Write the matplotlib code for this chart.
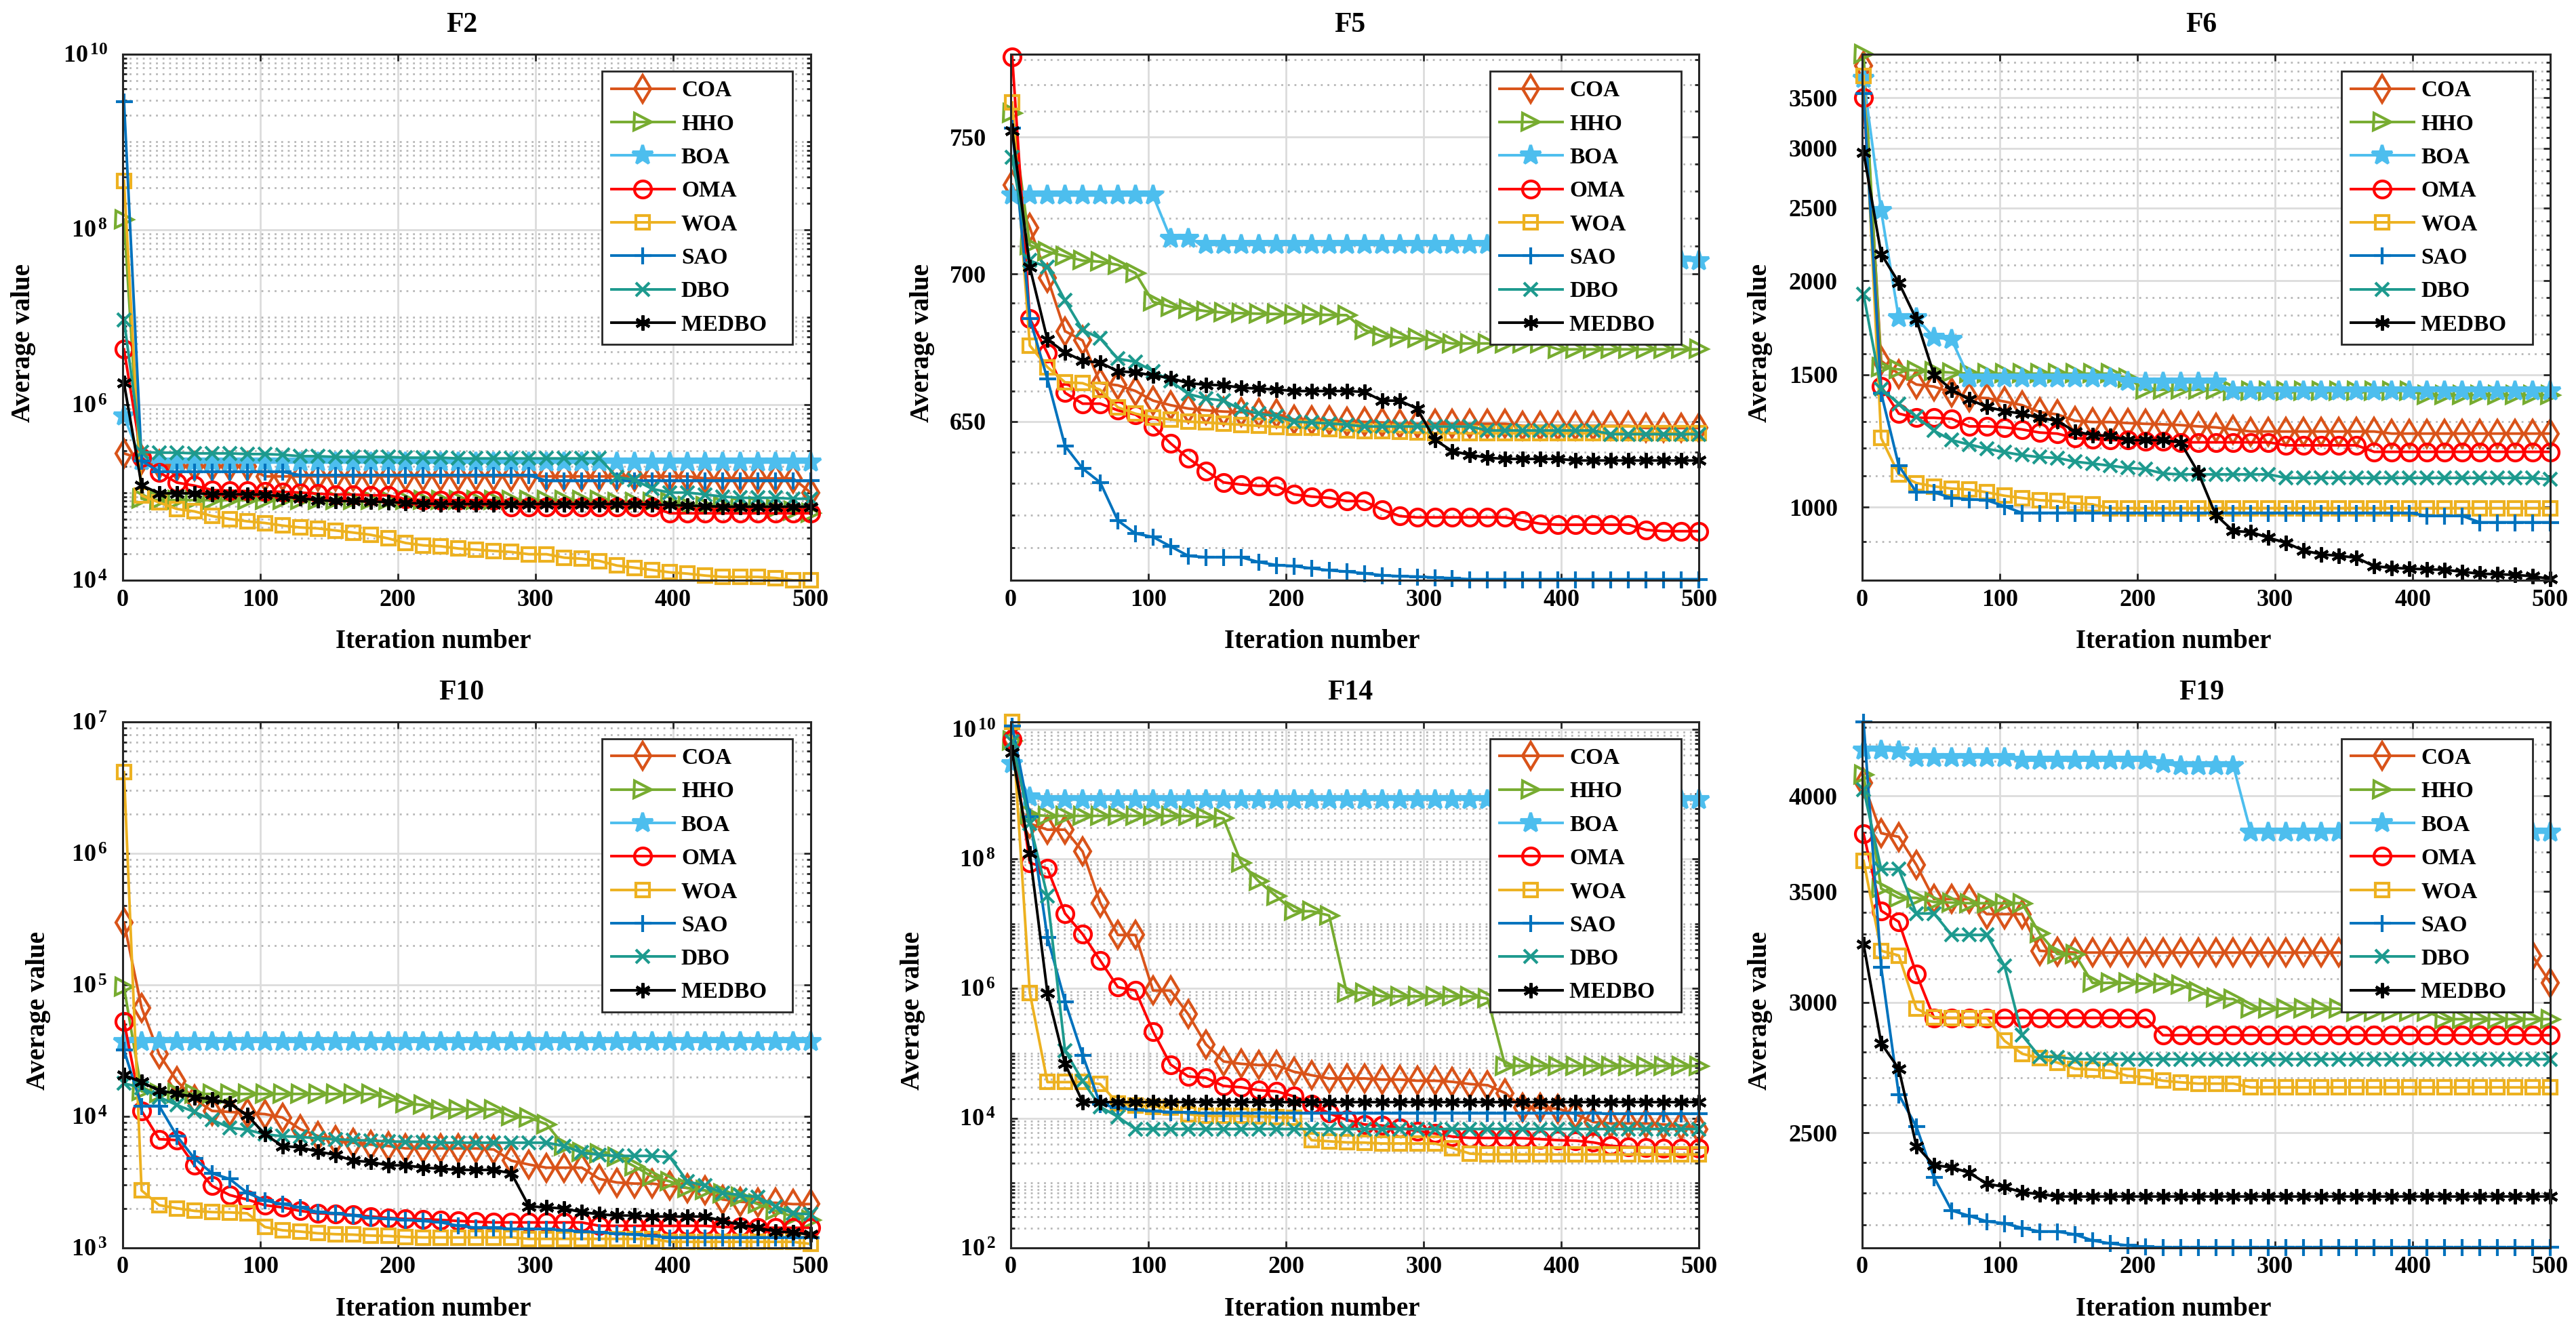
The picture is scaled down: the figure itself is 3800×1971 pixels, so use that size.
import numpy as np
import matplotlib
matplotlib.use("Agg")
import matplotlib.pyplot as plt
from matplotlib.ticker import FixedLocator, FuncFormatter, NullFormatter, NullLocator

plt.rcParams['font.family'] = ['Liberation Serif', 'DejaVu Serif']
plt.rcParams['font.weight'] = 'bold'
plt.rcParams['axes.labelweight'] = 'bold'
plt.rcParams['axes.titleweight'] = 'bold'
plt.rcParams['mathtext.fontset'] = 'custom'
plt.rcParams['mathtext.rm'] = 'Liberation Serif:bold'
plt.rcParams['mathtext.it'] = 'Liberation Serif:bold:italic'
plt.rcParams['mathtext.bf'] = 'Liberation Serif:bold'

# Алгоритмы и стили
ALGOS = ["COA", "HHO", "BOA", "OMA", "WOA", "SAO", "DBO", "MEDBO"]
COLORS = ["#D95319", "#77AC30", "#4DBEEE", "#FF0000", "#EDB120", "#0072BD", "#1D9A8E", "#000000"]
MARKERS = ["d", ">", "*", "o", "s", "+", "x", (6, 2, 0)]
MSIZES = [10, 9, 11, 9, 7, 9, 7, 8]

# итерации, в которых стоят маркеры
ITER = np.linspace(1, 500, 40)

# ---------------- F2 ----------------
F2_COA = [2.8e5, 2.4e5, 2.1e5, 2.0e5, 2.0e5, 2.0e5, 2.0e5, 2.0e5, 1.53e5, 1.53e5,
          1.53e5, 1.53e5, 1.53e5, 1.53e5, 1.53e5, 1.53e5, 1.53e5, 1.53e5, 1.53e5, 1.53e5,
          1.53e5, 1.53e5, 1.53e5, 1.53e5, 1.53e5, 1.53e5, 1.53e5, 1.53e5, 1.53e5, 1.53e5,
          1.53e5, 1.53e5, 1.53e5, 1.45e5, 1.45e5, 1.45e5, 1.45e5, 1.45e5, 1.45e5, 1.0e5]
F2_HHO = [1.3e8, 8.5e4, 8.2e4, 8.2e4, 8.2e4, 8.2e4, 8.2e4, 8.2e4, 8.2e4, 8.2e4,
          8.2e4, 8.2e4, 8.2e4, 8.2e4, 8.2e4, 8.2e4, 8.2e4, 8.2e4, 8.2e4, 8.2e4,
          8.2e4, 8.2e4, 8.2e4, 8.2e4, 8.2e4, 8.2e4, 8.2e4, 8.2e4, 7.8e4, 7.8e4,
          7.8e4, 7.8e4, 7.0e4, 7.0e4, 7.0e4, 7.0e4, 7.0e4, 6.5e4, 6.2e4, 5.8e4]
F2_BOA = [7.4e5, 2.3e5, 2.2e5, 2.2e5, 2.2e5, 2.2e5, 2.2e5, 2.2e5, 2.2e5, 2.2e5,
          2.2e5, 2.2e5, 2.2e5, 2.2e5, 2.2e5, 2.2e5, 2.2e5, 2.2e5, 2.2e5, 2.2e5,
          2.2e5, 2.2e5, 2.2e5, 2.2e5, 2.2e5, 2.2e5, 2.2e5, 2.2e5, 2.2e5, 2.2e5,
          2.2e5, 2.2e5, 2.2e5, 2.2e5, 2.2e5, 2.2e5, 2.2e5, 2.2e5, 2.2e5, 2.2e5]
F2_OMA = [4.3e6, 2.5e5, 1.7e5, 1.3e5, 1.2e5, 1.07e5, 1.05e5, 1.04e5, 1.03e5, 1.02e5,
          1.0e5, 9.7e4, 9.5e4, 9.5e4, 9.3e4, 9.3e4, 8.4e4, 8.2e4, 8.2e4, 8.2e4,
          8.2e4, 8.2e4, 6.9e4, 6.9e4, 6.9e4, 6.9e4, 6.9e4, 6.9e4, 6.9e4, 6.9e4,
          6.9e4, 5.8e4, 5.8e4, 5.8e4, 5.8e4, 5.8e4, 5.8e4, 5.8e4, 5.8e4, 5.8e4]
F2_WOA = [3.6e8, 9.25e4, 7.7e4, 6.5e4, 6.1e4, 5.4e4, 5.0e4, 4.7e4, 4.5e4, 4.2e4,
          4.0e4, 3.9e4, 3.7e4, 3.5e4, 3.3e4, 3.0e4, 2.66e4, 2.5e4, 2.44e4, 2.3e4,
          2.23e4, 2.16e4, 2.1e4, 1.98e4, 1.98e4, 1.81e4, 1.76e4, 1.66e4, 1.47e4, 1.39e4,
          1.31e4, 1.23e4, 1.19e4, 1.13e4, 1.09e4, 1.09e4, 1.09e4, 1.06e4, 1.0e4, 1.0e4]
F2_SAO = [2.9e9, 2.3e5, 1.73e5, 1.73e5, 1.73e5, 1.73e5, 1.73e5, 1.73e5, 1.73e5, 1.73e5,
          1.58e5, 1.58e5, 1.58e5, 1.58e5, 1.58e5, 1.58e5, 1.58e5, 1.58e5, 1.58e5, 1.58e5,
          1.58e5, 1.58e5, 1.58e5, 1.58e5, 1.36e5, 1.36e5, 1.36e5, 1.36e5, 1.36e5, 1.36e5,
          1.36e5, 1.36e5, 1.36e5, 1.36e5, 1.36e5, 1.36e5, 1.36e5, 1.36e5, 1.36e5, 1.36e5]
F2_DBO = [9.3e6, 2.9e5, 2.85e5, 2.85e5, 2.8e5, 2.8e5, 2.8e5, 2.75e5, 2.75e5, 2.7e5,
          2.6e5, 2.6e5, 2.55e5, 2.55e5, 2.55e5, 2.55e5, 2.5e5, 2.5e5, 2.5e5, 2.45e5,
          2.45e5, 2.45e5, 2.45e5, 2.45e5, 2.45e5, 2.45e5, 2.45e5, 2.45e5, 1.5e5, 1.4e5,
          1.1e5, 1.0e5, 1.0e5, 9.5e4, 9.0e4, 8.7e4, 8.7e4, 8.7e4, 8.5e4, 8.5e4]
F2_MEDBO = [1.78e6, 1.21e5, 9.8e4, 9.8e4, 9.8e4, 9.6e4, 9.6e4, 9.5e4, 9.5e4, 9.0e4,
            8.6e4, 8.2e4, 8.0e4, 8.0e4, 7.9e4, 7.8e4, 7.6e4, 7.5e4, 7.4e4, 7.4e4,
            7.4e4, 7.4e4, 7.4e4, 7.4e4, 7.4e4, 7.4e4, 7.4e4, 7.4e4, 7.4e4, 7.4e4,
            7.3e4, 7.2e4, 7.1e4, 7.0e4, 6.9e4, 6.9e4, 6.9e4, 6.9e4, 6.9e4, 6.9e4]

# ---------------- F5 ----------------
F5_COA = [732.2, 716.6, 698.7, 680.2, 677.0, 662.6, 661.9, 660.0, 656.8, 655.3,
          654.2, 653.6, 653.2, 653.0, 652.8, 652.5, 650.6, 650.3, 650.3, 650.0,
          649.8, 649.6, 649.2, 649.2, 649.2, 649.2, 649.2, 649.2, 649.2, 648.5,
          648.5, 648.5, 648.5, 648.5, 648.5, 648.5, 647.8, 647.8, 647.8, 647.8]
F5_HHO = [759.0, 710.3, 708.0, 706.4, 704.8, 704.4, 703.3, 700.4, 690.3, 688.6,
          687.9, 687.1, 686.6, 686.4, 686.2, 686.1, 686.0, 685.9, 685.8, 685.7,
          680.6, 678.5, 678.0, 677.7, 677.0, 676.0, 676.0, 676.0, 676.0, 676.0,
          676.0, 674.0, 674.0, 674.0, 674.0, 674.0, 674.0, 674.0, 674.0, 674.0]
F5_BOA = [728.3, 728.3, 728.3, 728.3, 728.3, 728.3, 728.3, 728.3, 728.3, 712.7,
          712.7, 710.4, 710.4, 710.4, 710.4, 710.4, 710.4, 710.4, 710.4, 710.4,
          710.4, 710.4, 710.4, 710.4, 710.4, 710.4, 710.4, 710.4, 710.4, 710.4,
          710.4, 710.4, 710.4, 710.4, 710.4, 710.4, 710.4, 710.4, 705.0, 704.6]
F5_OMA = [781.0, 684.5, 672.7, 659.4, 655.8, 655.8, 653.6, 652.2, 648.4, 642.8,
          638.0, 634.0, 630.3, 629.6, 629.2, 629.2, 626.5, 625.8, 625.4, 624.4,
          624.4, 621.7, 619.7, 619.3, 619.3, 619.3, 619.3, 619.3, 619.3, 618.3,
          617.3, 617.0, 617.0, 617.0, 617.0, 617.0, 615.4, 615.0, 615.0, 615.0]
F5_WOA = [763.2, 675.3, 668.0, 662.9, 662.6, 660.4, 654.6, 652.5, 651.3, 650.6,
          649.9, 649.6, 649.2, 648.9, 648.5, 648.2, 648.0, 647.9, 647.5, 647.1,
          646.8, 646.8, 646.5, 646.3, 646.1, 646.1, 646.1, 646.1, 646.1, 646.1,
          646.1, 646.1, 646.1, 646.1, 646.1, 646.1, 646.1, 646.1, 646.1, 646.1]
F5_SAO = [753.4, 684.5, 664.0, 642.0, 634.7, 630.3, 618.3, 614.3, 613.2, 610.3,
          607.4, 607.0, 607.0, 607.0, 605.5, 604.6, 604.3, 603.6, 603.0, 602.6,
          602.1, 601.5, 601.2, 601.1, 600.8, 600.6, 600.3, 600.3, 600.3, 600.3,
          600.3, 600.3, 600.3, 600.3, 600.3, 600.3, 600.3, 600.3, 600.3, 600.3]
F5_DBO = [742.4, 704.8, 702.5, 690.8, 680.6, 677.7, 670.8, 669.8, 666.6, 663.3,
          659.0, 657.5, 656.8, 653.9, 652.5, 651.7, 649.9, 649.6, 649.3, 648.9,
          648.3, 648.3, 648.3, 648.3, 648.3, 648.3, 648.3, 647.0, 647.0, 647.0,
          647.0, 647.0, 647.0, 647.0, 645.8, 645.8, 645.8, 645.8, 645.8, 645.8]
F5_MEDBO = [752.5, 702.5, 677.3, 673.0, 670.1, 669.5, 666.6, 666.2, 665.2, 664.3,
            662.6, 662.1, 661.9, 661.1, 660.8, 660.5, 660.0, 660.0, 660.0, 660.0,
            659.7, 656.8, 656.8, 654.2, 644.0, 640.3, 639.1, 638.2, 637.8, 637.8,
            637.8, 637.8, 637.3, 637.3, 637.3, 637.3, 637.3, 637.3, 637.3, 637.3]

# ---------------- F6 ----------------
F6_COA = [3864, 1565, 1504, 1456, 1447, 1420, 1400, 1397, 1382, 1367,
          1338, 1329, 1303, 1298, 1298, 1294, 1291, 1289, 1286, 1281,
          1277, 1269, 1261, 1261, 1261, 1261, 1261, 1261, 1261, 1261,
          1253, 1253, 1253, 1253, 1253, 1253, 1253, 1253, 1253, 1253]
F6_HHO = [4000, 1535, 1525, 1520, 1515, 1510, 1505, 1505, 1505, 1505,
          1505, 1505, 1505, 1505, 1505, 1485, 1433, 1433, 1433, 1433,
          1433, 1428, 1428, 1428, 1428, 1428, 1428, 1428, 1428, 1428,
          1428, 1428, 1410, 1410, 1410, 1410, 1410, 1410, 1410, 1410]
F6_BOA = [3715, 2475, 1784, 1784, 1682, 1671, 1485, 1485, 1485, 1485,
          1485, 1485, 1485, 1485, 1485, 1470, 1466, 1466, 1466, 1466,
          1466, 1428, 1428, 1428, 1428, 1428, 1428, 1428, 1428, 1428,
          1428, 1428, 1428, 1428, 1428, 1428, 1428, 1428, 1428, 1428]
F6_OMA = [3500, 1447, 1332, 1315, 1315, 1311, 1281, 1281, 1277, 1269,
          1257, 1253, 1236, 1232, 1228, 1228, 1225, 1225, 1220, 1220,
          1220, 1220, 1220, 1220, 1209, 1209, 1209, 1209, 1209, 1185,
          1185, 1185, 1185, 1185, 1185, 1185, 1185, 1185, 1185, 1185]
F6_WOA = [3740, 1236, 1106, 1077, 1066, 1059, 1056, 1047, 1036, 1029,
          1022, 1019, 1012, 1009, 997, 997, 997, 997, 997, 997,
          997, 997, 997, 997, 997, 997, 997, 997, 997, 997,
          997, 997, 997, 997, 997, 997, 997, 997, 997, 997]
F6_SAO = [3550, 1418, 1136, 1047, 1047, 1029, 1025, 1022, 1003, 983,
          983, 983, 983, 983, 983, 983, 983, 983, 983, 983,
          983, 983, 983, 983, 983, 983, 983, 983, 983, 983,
          983, 983, 974, 974, 974, 955, 955, 955, 955, 955]
F6_DBO = [1918, 1437, 1373, 1320, 1264, 1228, 1212, 1196, 1184, 1173,
          1166, 1163, 1150, 1143, 1136, 1128, 1124, 1109, 1106, 1106,
          1106, 1106, 1106, 1106, 1094, 1094, 1094, 1094, 1094, 1094,
          1094, 1094, 1094, 1094, 1094, 1094, 1094, 1094, 1094, 1089]
F6_MEDBO = [2963, 2171, 1989, 1777, 1500, 1434, 1391, 1360, 1342, 1332,
            1315, 1303, 1261, 1248, 1244, 1228, 1228, 1228, 1220, 1113,
            977, 930, 927, 911, 897, 876, 866, 862, 857, 835,
            831, 829, 827, 826, 821, 816, 815, 813, 810, 803]

# ---------------- F10 ----------------
F10_COA = [2.98e5, 6.7e4, 2.96e4, 1.86e4, 1.35e4, 1.1e4, 1.08e4, 1.06e4, 1.04e4, 9.8e3,
           8.0e3, 7.1e3, 6.6e3, 6.3e3, 6.1e3, 5.95e3, 5.7e3, 5.7e3, 5.7e3, 5.7e3,
           5.7e3, 5.6e3, 4.6e3, 4.3e3, 4.07e3, 4.07e3, 4.07e3, 3.34e3, 3.14e3, 3.08e3,
           3.08e3, 2.96e3, 2.85e3, 2.73e3, 2.33e3, 2.24e3, 2.2e3, 2.2e3, 2.15e3, 2.15e3]
F10_HHO = [9.6e4, 1.55e4, 1.5e4, 1.5e4, 1.48e4, 1.48e4, 1.48e4, 1.48e4, 1.48e4, 1.48e4,
           1.48e4, 1.48e4, 1.48e4, 1.48e4, 1.48e4, 1.38e4, 1.25e4, 1.22e4, 1.13e4, 1.13e4,
           1.13e4, 1.13e4, 1.0e4, 9.8e3, 8.7e3, 5.95e3, 5.3e3, 5.2e3, 4.9e3, 4.16e3,
           3.48e3, 3.2e3, 2.85e3, 2.73e3, 2.58e3, 2.43e3, 2.15e3, 1.91e3, 1.73e3, 1.62e3]
F10_BOA = [3.7e4, 3.7e4, 3.7e4, 3.7e4, 3.7e4, 3.7e4, 3.7e4, 3.7e4, 3.7e4, 3.7e4,
           3.7e4, 3.7e4, 3.7e4, 3.7e4, 3.7e4, 3.7e4, 3.7e4, 3.7e4, 3.7e4, 3.7e4,
           3.7e4, 3.7e4, 3.7e4, 3.7e4, 3.7e4, 3.7e4, 3.7e4, 3.7e4, 3.7e4, 3.7e4,
           3.7e4, 3.7e4, 3.7e4, 3.7e4, 3.7e4, 3.7e4, 3.7e4, 3.7e4, 3.7e4, 3.7e4]
F10_OMA = [5.27e4, 1.1e4, 6.7e3, 6.6e3, 4.24e3, 2.96e3, 2.52e3, 2.33e3, 2.11e3, 2.03e3,
           1.91e3, 1.83e3, 1.81e3, 1.78e3, 1.73e3, 1.69e3, 1.66e3, 1.65e3, 1.63e3, 1.6e3,
           1.58e3, 1.56e3, 1.56e3, 1.56e3, 1.56e3, 1.56e3, 1.56e3, 1.47e3, 1.47e3, 1.47e3,
           1.47e3, 1.47e3, 1.47e3, 1.47e3, 1.44e3, 1.44e3, 1.42e3, 1.42e3, 1.42e3, 1.42e3]
F10_WOA = [4.15e6, 2.73e3, 2.11e3, 2.0e3, 1.91e3, 1.87e3, 1.86e3, 1.83e3, 1.44e3, 1.36e3,
           1.33e3, 1.29e3, 1.27e3, 1.26e3, 1.24e3, 1.23e3, 1.21e3, 1.2e3, 1.2e3, 1.2e3,
           1.2e3, 1.2e3, 1.2e3, 1.17e3, 1.17e3, 1.17e3, 1.17e3, 1.17e3, 1.17e3, 1.17e3,
           1.17e3, 1.11e3, 1.11e3, 1.11e3, 1.11e3, 1.11e3, 1.11e3, 1.11e3, 1.11e3, 1.07e3]
F10_SAO = [3.18e4, 1.2e4, 1.2e4, 7.1e3, 4.78e3, 3.69e3, 3.34e3, 2.62e3, 2.29e3, 2.15e3,
           2.03e3, 1.87e3, 1.83e3, 1.76e3, 1.69e3, 1.66e3, 1.63e3, 1.6e3, 1.56e3, 1.47e3,
           1.42e3, 1.42e3, 1.39e3, 1.39e3, 1.39e3, 1.36e3, 1.33e3, 1.31e3, 1.28e3, 1.26e3,
           1.23e3, 1.2e3, 1.2e3, 1.2e3, 1.2e3, 1.2e3, 1.2e3, 1.2e3, 1.2e3, 1.2e3]
F10_DBO = [1.78e4, 1.65e4, 1.4e4, 1.22e4, 1.08e4, 9.4e3, 8.2e3, 7.9e3, 7.3e3, 7.06e3,
           6.98e3, 6.8e3, 6.7e3, 6.6e3, 6.55e3, 6.45e3, 6.4e3, 6.4e3, 6.3e3, 6.3e3,
           6.3e3, 6.3e3, 6.3e3, 6.3e3, 6.3e3, 5.95e3, 5.3e3, 5.1e3, 5.0e3, 5.0e3,
           5.0e3, 4.9e3, 3.2e3, 2.96e3, 2.62e3, 2.52e3, 2.43e3, 2.07e3, 1.83e3, 1.8e3]
F10_MEDBO = [2.06e4, 1.82e4, 1.57e4, 1.49e4, 1.4e4, 1.35e4, 1.25e4, 1.02e4, 7.3e3, 5.95e3,
             5.8e3, 5.4e3, 5.1e3, 4.6e3, 4.5e3, 4.24e3, 4.24e3, 4.07e3, 4.0e3, 3.91e3,
             3.91e3, 3.91e3, 3.69e3, 2.07e3, 2.03e3, 1.99e3, 1.87e3, 1.8e3, 1.76e3, 1.76e3,
             1.73e3, 1.73e3, 1.73e3, 1.73e3, 1.6e3, 1.5e3, 1.42e3, 1.33e3, 1.31e3, 1.26e3]

# ---------------- F14 ----------------
F14_COA = [7.0e9, 3.5e8, 2.82e8, 2.82e8, 1.3e8, 2.1e7, 6.7e6, 6.7e6, 9.3e5, 9.3e5,
           4.0e5, 1.38e5, 7.5e4, 6.9e4, 6.6e4, 6.6e4, 5.2e4, 4.6e4, 4.1e4, 4.1e4,
           4.1e4, 3.94e4, 3.94e4, 3.78e4, 3.78e4, 3.64e4, 3.36e4, 3.23e4, 2.44e4, 1.45e4,
           1.45e4, 1.4e4, 1.15e4, 8.7e3, 8.3e3, 8.3e3, 8.3e3, 8.0e3, 7.7e3, 6.8e3]
F14_HHO = [6.6e9, 4.8e8, 4.6e8, 4.6e8, 4.6e8, 4.6e8, 4.6e8, 4.6e8, 4.6e8, 4.6e8,
           4.6e8, 4.4e8, 4.2e8, 8.7e7, 4.5e7, 2.65e7, 1.56e7, 1.56e7, 1.34e7, 8.6e5,
           8.6e5, 7.6e5, 7.6e5, 7.6e5, 7.6e5, 7.6e5, 7.6e5, 7.0e5, 6.4e4, 6.4e4,
           6.4e4, 6.4e4, 6.4e4, 6.4e4, 6.4e4, 6.4e4, 6.4e4, 6.4e4, 6.4e4, 6.4e4]
F14_BOA = [2.9e9, 8.9e8, 8.2e8, 8.2e8, 8.2e8, 8.2e8, 8.2e8, 8.2e8, 8.2e8, 8.2e8,
           8.2e8, 8.2e8, 8.2e8, 8.2e8, 8.2e8, 8.2e8, 8.2e8, 8.2e8, 8.2e8, 8.2e8,
           8.2e8, 8.2e8, 8.2e8, 8.2e8, 8.2e8, 8.2e8, 8.2e8, 8.2e8, 8.2e8, 8.2e8,
           8.2e8, 8.2e8, 8.2e8, 8.2e8, 8.2e8, 8.2e8, 8.2e8, 8.2e8, 8.2e8, 8.2e8]
F14_OMA = [6.9e9, 8.7e7, 7.1e7, 1.44e7, 6.9e6, 2.7e6, 1.05e6, 9.3e5, 2.18e5, 6.7e4,
           4.4e4, 4.2e4, 3.14e4, 3.0e4, 2.7e4, 2.6e4, 2.17e4, 1.64e4, 1.19e4, 9.4e3,
           8.0e3, 7.7e3, 7.1e3, 6.3e3, 5.8e3, 5.2e3, 4.97e3, 4.95e3, 4.95e3, 4.9e3,
           4.75e3, 4.58e3, 4.5e3, 4.23e3, 3.75e3, 3.6e3, 3.55e3, 3.47e3, 3.42e3, 3.4e3]
F14_WOA = [1.3e10, 8.6e5, 3.6e4, 3.6e4, 3.6e4, 3.36e4, 1.7e4, 1.57e4, 1.51e4, 1.45e4,
           1.15e4, 1.08e4, 1.08e4, 1.08e4, 1.06e4, 1.03e4, 1.02e4, 4.58e3, 4.4e3, 4.23e3,
           4.2e3, 4.07e3, 4.07e3, 4.07e3, 4.07e3, 3.47e3, 2.84e3, 2.75e3, 2.75e3, 2.75e3,
           2.75e3, 2.75e3, 2.75e3, 2.75e3, 2.75e3, 2.75e3, 2.75e3, 2.75e3, 2.75e3, 2.75e3]
F14_SAO = [1.12e10, 4.45e8, 6.2e6, 6.3e5, 9.4e4, 1.64e4, 1.45e4, 1.34e4, 1.29e4, 1.24e4,
           1.22e4, 1.19e4, 1.19e4, 1.19e4, 1.19e4, 1.19e4, 1.19e4, 1.19e4, 1.19e4, 1.19e4,
           1.19e4, 1.19e4, 1.19e4, 1.19e4, 1.19e4, 1.19e4, 1.19e4, 1.19e4, 1.19e4, 1.19e4,
           1.19e4, 1.19e4, 1.19e4, 1.19e4, 1.17e4, 1.17e4, 1.17e4, 1.17e4, 1.17e4, 1.17e4]
F14_DBO = [6.4e9, 3.54e8, 2.65e7, 1.1e5, 3.77e4, 1.5e4, 1.05e4, 6.8e3, 6.8e3, 6.8e3,
           6.8e3, 6.8e3, 6.8e3, 6.8e3, 6.8e3, 6.8e3, 6.8e3, 6.8e3, 6.8e3, 6.8e3,
           6.8e3, 6.8e3, 6.8e3, 6.8e3, 6.8e3, 6.8e3, 6.8e3, 6.8e3, 6.8e3, 6.8e3,
           6.8e3, 6.8e3, 6.8e3, 6.8e3, 6.8e3, 6.8e3, 6.8e3, 6.8e3, 6.8e3, 6.8e3]
F14_MEDBO = [4.38e9, 1.22e8, 8.6e5, 6.9e4, 1.77e4, 1.77e4, 1.77e4, 1.77e4, 1.77e4, 1.77e4,
             1.77e4, 1.77e4, 1.77e4, 1.77e4, 1.77e4, 1.77e4, 1.77e4, 1.77e4, 1.77e4, 1.77e4,
             1.77e4, 1.77e4, 1.77e4, 1.77e4, 1.77e4, 1.77e4, 1.77e4, 1.77e4, 1.77e4, 1.77e4,
             1.77e4, 1.77e4, 1.77e4, 1.77e4, 1.77e4, 1.77e4, 1.77e4, 1.77e4, 1.77e4, 1.77e4]

# ---------------- F19 ----------------
F19_COA = [4072, 3797, 3778, 3633, 3464, 3464, 3464, 3392, 3392, 3392,
           3223, 3218, 3215, 3215, 3215, 3215, 3215, 3215, 3215, 3215,
           3215, 3215, 3215, 3215, 3215, 3215, 3215, 3215, 3215, 3215,
           3215, 3215, 3215, 3215, 3215, 3215, 3215, 3215, 3200, 3082]
F19_HHO = [4120, 3515, 3470, 3470, 3450, 3447, 3444, 3444, 3444, 3444,
           3301, 3208, 3208, 3082, 3082, 3082, 3078, 3078, 3072, 3045,
           3018, 3013, 2973, 2973, 2973, 2973, 2973, 2973, 2960, 2960,
           2960, 2960, 2960, 2930, 2930, 2930, 2930, 2930, 2930, 2930]
F19_BOA = [4263, 4263, 4258, 4220, 4220, 4220, 4220, 4220, 4220, 4202,
           4202, 4202, 4202, 4202, 4202, 4202, 4202, 4183, 4171, 4171,
           4171, 4171, 3800, 3800, 3800, 3800, 3800, 3800, 3800, 3800,
           3800, 3800, 3800, 3800, 3800, 3800, 3800, 3800, 3800, 3800]
F19_OMA = [3794, 3408, 3356, 3121, 2935, 2935, 2935, 2935, 2935, 2935,
           2935, 2935, 2935, 2935, 2935, 2935, 2935, 2865, 2865, 2865,
           2865, 2865, 2865, 2865, 2865, 2865, 2865, 2865, 2865, 2865,
           2865, 2865, 2865, 2865, 2865, 2865, 2865, 2865, 2865, 2865]
F19_WOA = [3654, 3223, 3202, 2973, 2938, 2935, 2935, 2935, 2843, 2792,
           2775, 2758, 2734, 2731, 2726, 2707, 2702, 2689, 2683, 2678,
           2678, 2678, 2664, 2664, 2664, 2664, 2664, 2664, 2664, 2664,
           2664, 2664, 2664, 2664, 2664, 2664, 2664, 2664, 2664, 2664]
F19_SAO = [4433, 3150, 2637, 2522, 2350, 2244, 2227, 2210, 2204, 2190,
           2179, 2179, 2170, 2152, 2143, 2137, 2133, 2131, 2131, 2131,
           2131, 2131, 2131, 2131, 2131, 2131, 2131, 2131, 2131, 2131,
           2131, 2131, 2131, 2131, 2131, 2131, 2131, 2131, 2131, 2131]
F19_DBO = [4036, 3611, 3611, 3395, 3395, 3295, 3295, 3295, 3157, 2865,
           2781, 2779, 2771, 2771, 2771, 2771, 2771, 2771, 2771, 2771,
           2771, 2771, 2771, 2771, 2771, 2771, 2771, 2771, 2771, 2771,
           2771, 2771, 2771, 2771, 2771, 2771, 2771, 2771, 2771, 2771]
F19_MEDBO = [3253, 2833, 2734, 2455, 2390, 2383, 2365, 2329, 2319, 2301,
             2296, 2288, 2288, 2288, 2288, 2288, 2288, 2288, 2288, 2288,
             2288, 2288, 2288, 2288, 2288, 2288, 2288, 2288, 2288, 2288,
             2288, 2288, 2288, 2288, 2288, 2288, 2288, 2288, 2288, 2288]


def decade_minors(lo, hi, majors):
    vals = [k * 10.0 ** e for e in range(lo, hi) for k in range(1, 10)]
    return [v for v in vals if not any(np.isclose(v, m) for m in majors)]


def step_minors(lo, hi, step, majors):
    return [v for v in range(lo, hi + 1, step) if v not in majors]


def pow10(v, pos):
    return r'$10^{\,%d}$' % int(round(np.log10(v)))


PANELS = [
    dict(title="F2", series=[F2_COA, F2_HHO, F2_BOA, F2_OMA, F2_WOA, F2_SAO, F2_DBO, F2_MEDBO],
         ylim=(1e4, 1e10), majors=[1e4, 1e6, 1e8, 1e10], minors=decade_minors(4, 10, [1e4, 1e6, 1e8, 1e10]),
         pow_labels=True, ylab_x=-0.144),
    dict(title="F5", series=[F5_COA, F5_HHO, F5_BOA, F5_OMA, F5_WOA, F5_SAO, F5_DBO, F5_MEDBO],
         ylim=(600, 782), majors=[650, 700, 750], minors=step_minors(600, 780, 10, [650, 700, 750]),
         pow_labels=False, ylab_x=-0.129),
    dict(title="F6", series=[F6_COA, F6_HHO, F6_BOA, F6_OMA, F6_WOA, F6_SAO, F6_DBO, F6_MEDBO],
         ylim=(800, 4000), majors=[1000, 1500, 2000, 2500, 3000, 3500],
         minors=step_minors(800, 4000, 100, [1000, 1500, 2000, 2500, 3000, 3500]),
         pow_labels=False, ylab_x=-0.148),
    dict(title="F10", series=[F10_COA, F10_HHO, F10_BOA, F10_OMA, F10_WOA, F10_SAO, F10_DBO, F10_MEDBO],
         ylim=(1e3, 1e7), majors=[1e3, 1e4, 1e5, 1e6, 1e7], minors=decade_minors(3, 7, [1e3, 1e4, 1e5, 1e6, 1e7]),
         pow_labels=True, ylab_x=-0.123),
    dict(title="F14", series=[F14_COA, F14_HHO, F14_BOA, F14_OMA, F14_WOA, F14_SAO, F14_DBO, F14_MEDBO],
         ylim=(1e2, 1.3e10), majors=[1e2, 1e4, 1e6, 1e8, 1e10],
         minors=decade_minors(2, 10, [1e2, 1e4, 1e6, 1e8, 1e10]),
         pow_labels=True, ylab_x=-0.142),
    dict(title="F19", series=[F19_COA, F19_HHO, F19_BOA, F19_OMA, F19_WOA, F19_SAO, F19_DBO, F19_MEDBO],
         ylim=(2130, 4435), majors=[2500, 3000, 3500, 4000],
         minors=step_minors(2200, 4400, 100, [2500, 3000, 3500, 4000]),
         pow_labels=False, ylab_x=-0.148),
]

LEFTS = [0.0476, 0.3924, 0.7229]
BOTTOMS = [0.5657, 0.0660]
WIDTH = 0.2671
HEIGHT = 0.3937

fig = plt.figure(figsize=(19, 9.855), dpi=200)

for n, p in enumerate(PANELS):
    ax = fig.add_axes([LEFTS[n % 3], BOTTOMS[n // 3], WIDTH, HEIGHT])
    ax.set_axisbelow(True)
    for k, name in enumerate(ALGOS):
        mfc = COLORS[k] if name == "BOA" else "none"
        ax.plot(ITER, p["series"][k], color=COLORS[k], marker=MARKERS[k], ms=MSIZES[k],
                mfc=mfc, mec=COLORS[k], mew=1.5, lw=1.4, label=name, clip_on=False)

    ax.set_yscale("log")
    ax.set_xlim(0, 500)
    ax.set_ylim(*p["ylim"])
    ax.set_xticks([0, 100, 200, 300, 400, 500])
    ax.xaxis.set_minor_locator(NullLocator())
    ax.yaxis.set_major_locator(FixedLocator(p["majors"]))
    ax.yaxis.set_minor_locator(FixedLocator(p["minors"]))
    ax.yaxis.set_minor_formatter(NullFormatter())
    if p["pow_labels"]:
        ax.yaxis.set_major_formatter(FuncFormatter(pow10))
        ypad = 8
    else:
        ax.yaxis.set_major_formatter(FuncFormatter(lambda v, pos: "%d" % v))
        ypad = 13

    ax.grid(True, which="major", color="#dcdcdc", lw=1.0, ls="-")
    ax.grid(True, which="minor", axis="y", color="#b8b8b8", lw=1.0, ls=(0, (1, 2.5)))
    ax.tick_params(which="both", direction="in", top=True, right=True, color="#262626", width=1.0)
    ax.tick_params(which="major", length=3.5, labelsize=13)
    ax.tick_params(which="minor", length=2)
    ax.tick_params(axis="x", pad=4.5)
    ax.tick_params(axis="y", pad=ypad)
    for sp in ax.spines.values():
        sp.set_color("#262626")
        sp.set_linewidth(1.1)

    ax.set_title(p["title"], fontsize=15, pad=12, x=0.493)
    ax.set_xlabel("Iteration number", fontsize=14, va="center")
    ax.xaxis.set_label_coords(0.452, -0.117)
    ax.set_ylabel("Average value", fontsize=14, va="center")
    ax.yaxis.set_label_coords(p["ylab_x"], 0.451)

    leg = ax.legend(loc="upper right", bbox_to_anchor=(0.974, 0.968), borderaxespad=0,
                    fontsize=12, handlelength=2.8, handletextpad=0.3, labelspacing=0.55,
                    borderpad=0.4, fancybox=False, framealpha=1, edgecolor="#262626")
    leg.get_frame().set_linewidth(1.0)
    for t in leg.get_texts():
        if t.get_text() == "MEDBO":
            t.set_text("MEDBO   ")

fig.savefig("out.png", dpi=200)
